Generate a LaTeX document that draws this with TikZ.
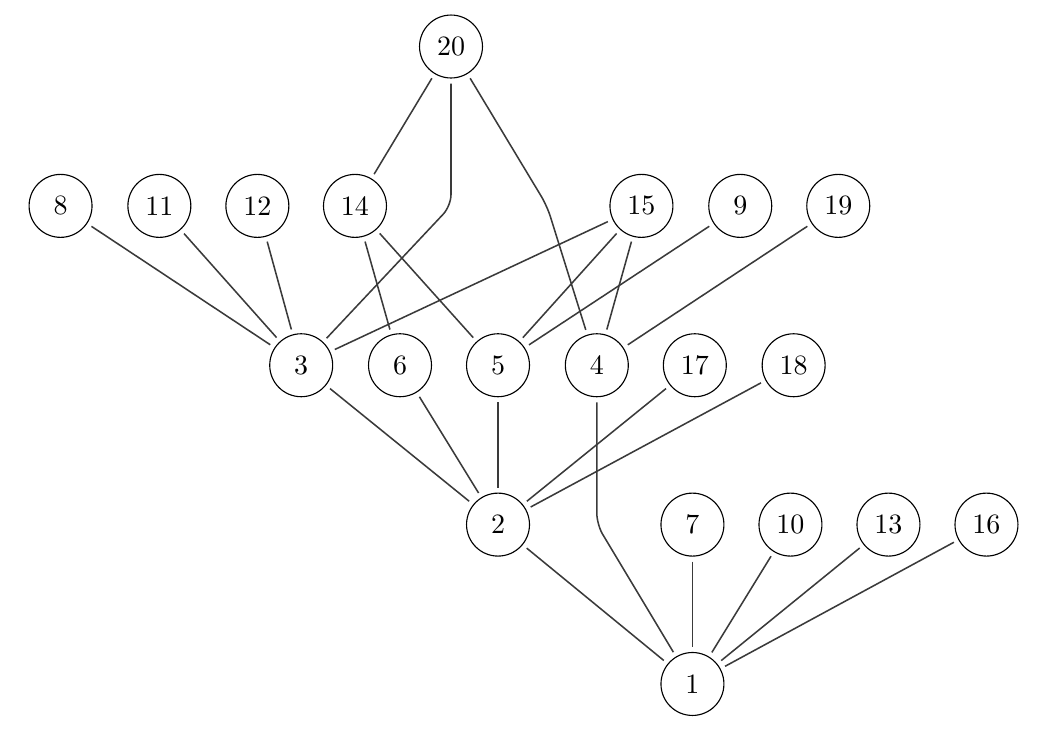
\documentclass[tikz,border=0pt]{standalone}
\usepackage{xcolor}
\usepackage{tikz}
\definecolor{ink}{HTML}{3A3A3A}

\begin{document}
\begin{tikzpicture}[
  vtx/.style={draw, circle, minimum size=7.9mm, inner sep=1pt, outer sep=2pt, line width=0.4pt},
  ln/.style={ink, line width=0.55pt, rounded corners=4pt}]
  \useasboundingbox (0,-0.678) rectangle (13.353,8.584);
  % layer 4 (top)
  \node[vtx] (v20) at (5.66,8) {20};
  % layer 3
  \node[vtx] (v8)  at (0.76,6)  {8};
  \node[vtx] (v11) at (2.00,6)  {11};
  \node[vtx] (v12) at (3.23,6)  {12};
  \node[vtx] (v14) at (4.455,6) {14};
  \node[vtx] (v15) at (8.05,6)  {15};
  \node[vtx] (v9)  at (9.29,6)  {9};
  \node[vtx] (v19) at (10.52,6) {19};
  % layer 2
  \node[vtx] (v3)  at (3.78,4) {3};
  \node[vtx] (v6)  at (5.02,4) {6};
  \node[vtx] (v5)  at (6.25,4) {5};
  \node[vtx] (v4)  at (7.49,4) {4};
  \node[vtx] (v17) at (8.72,4) {17};
  \node[vtx] (v18) at (9.96,4) {18};
  % layer 1
  \node[vtx] (v2)  at (6.25,2)  {2};
  \node[vtx] (v7)  at (8.69,2)  {7};
  \node[vtx] (v10) at (9.92,2)  {10};
  \node[vtx] (v13) at (11.15,2) {13};
  \node[vtx] (v16) at (12.38,2) {16};
  % layer 0
  \node[vtx] (v1)  at (8.69,0) {1};
  % bend points of the long edges
  \coordinate (b20a) at (5.66,6);
  \coordinate (b20b) at (6.865,6);
  \coordinate (b4)   at (7.49,2);
  \draw[ln] (v20)--(v14); \draw[ln] (v20)--(b20a)--(v3); \draw[ln] (v20)--(b20b)--(v4);
  \draw[ln] (v8)--(v3); \draw[ln] (v11)--(v3); \draw[ln] (v12)--(v3);
  \draw[ln] (v14)--(v6); \draw[ln] (v14)--(v5);
  \draw[ln] (v15)--(v3); \draw[ln] (v15)--(v5); \draw[ln] (v15)--(v4);
  \draw[ln] (v9)--(v5); \draw[ln] (v19)--(v4);
  \draw[ln] (v3)--(v2); \draw[ln] (v6)--(v2); \draw[ln] (v5)--(v2);
  \draw[ln] (v17)--(v2); \draw[ln] (v18)--(v2);
  \draw[ln] (v4)--(b4)--(v1); \draw[ln] (v2)--(v1); \draw[ln] (v7)--(v1);
  \draw[ln] (v10)--(v1); \draw[ln] (v13)--(v1); \draw[ln] (v16)--(v1);
\end{tikzpicture}
\end{document}
